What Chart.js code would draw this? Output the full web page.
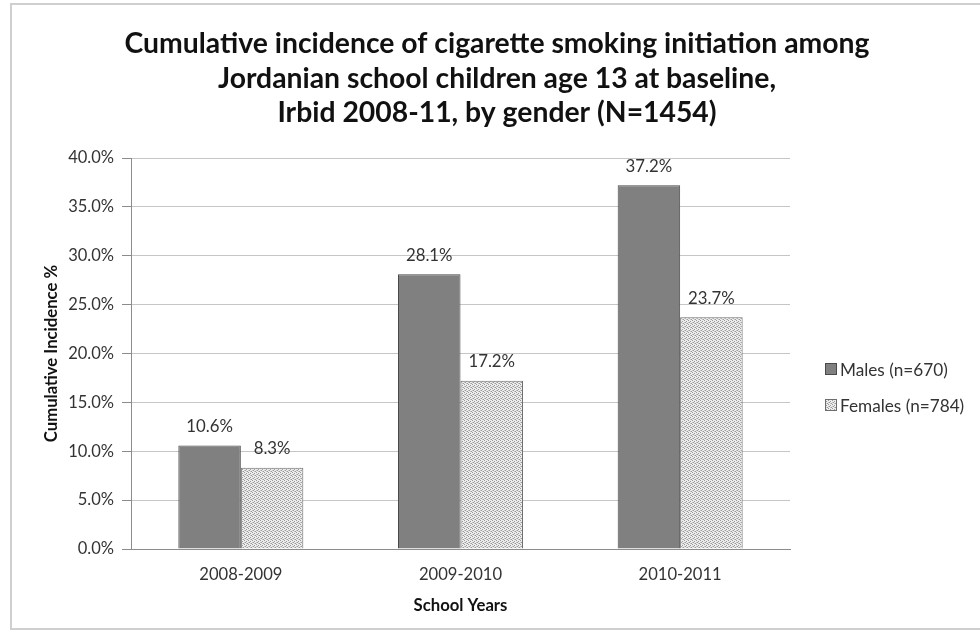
<!DOCTYPE html>
<html><head><meta charset="utf-8">
<script src="https://cdn.jsdelivr.net/npm/chart.js@4.4.1/dist/chart.umd.min.js"></script>
<style>html,body{margin:0;padding:0;background:#fff;overflow:hidden}canvas{display:block}</style>
</head><body>
<canvas id="c" width="980" height="636"></canvas>
<script>
const categories = ['2008-2009', '2009-2010', '2010-2011'];
const seriesNames = ['Males (n=670)', 'Females (n=784)'];
const males = [10.6, 28.1, 37.2];
const females = [8.3, 17.2, 23.7];
const titleLines = ['Cumulative incidence of cigarette smoking initiation among',
  'Jordanian school children age 13 at baseline,',
  'Irbid 2008-11, by gender (N=1454)'];
const yAxisTitle = 'Cumulative Incidence %';
const xAxisTitle = 'School Years';
const yMin = 0, yMax = 40, yStep = 5;

const FONT = 'Lato, "Open Sans", sans-serif';
const TXT = '#333333';

function makePattern() {
  const c = document.createElement('canvas');
  c.width = 4; c.height = 4;
  const g = c.getContext('2d');
  g.fillStyle = '#ececec'; g.fillRect(0, 0, 4, 4);
  g.fillStyle = '#9a9a9a';
  [[0,0],[2,1],[1,2],[3,3]].forEach(p => g.fillRect(p[0], p[1], 1, 1));
  g.fillStyle = '#c4c4c4';
  [[2,3],[0,2]].forEach(p => g.fillRect(p[0], p[1], 1, 1));
  return document.getElementById('c').getContext('2d').createPattern(c, 'repeat');
}
const femalePattern = makePattern();

const decor = {
  id: 'decor',
  beforeDraw(chart) {
    const ctx = chart.ctx;
    ctx.save();
    ctx.fillStyle = '#fff';
    ctx.fillRect(0, 0, chart.width, chart.height);
    ctx.strokeStyle = '#cfcfcf';
    ctx.lineWidth = 2;
    ctx.strokeRect(11, 4, 990, 625);
    ctx.restore();
  },
  afterDraw(chart) {
    const ctx = chart.ctx;
    ctx.save();
    // title
    let size = 26;
    ctx.font = 'bold ' + size + 'px ' + FONT;
    const w = ctx.measureText(titleLines[0]).width;
    size = size * 745 / w;
    ctx.font = 'bold ' + size.toFixed(2) + 'px ' + FONT;
    ctx.fillStyle = '#111';
    ctx.textAlign = 'center';
    ctx.textBaseline = 'alphabetic';
    const baselines = [53, 88, 122];
    titleLines.forEach((t, i) => ctx.fillText(t, 497, baselines[i]));
    // data labels
    ctx.font = '16.8px ' + FONT;
    ctx.fillStyle = TXT;
    ctx.textBaseline = 'middle';
    chart.data.datasets.forEach((ds, di) => {
      chart.getDatasetMeta(di).data.forEach((bar, i) => {
        ctx.fillText(ds.data[i].toFixed(1) + '%', bar.x, bar.y - 19);
      });
    });
    // legend
    const legendY = [369, 405];
    ctx.textAlign = 'left';
    ctx.font = '17.2px ' + FONT;
    chart.data.datasets.forEach((ds, di) => {
      const y = legendY[di];
      ctx.fillStyle = ds.backgroundColor;
      ctx.fillRect(825, y - 6, 12, 12);
      ctx.strokeStyle = ds.borderColor;
      ctx.lineWidth = 1;
      ctx.strokeRect(825.5, y - 5.5, 11, 11);
      ctx.fillStyle = TXT;
      ctx.fillText(ds.label, 840, y + 1);
    });
    ctx.restore();
  }
};

new Chart(document.getElementById('c'), {
  type: 'bar',
  data: {
    labels: categories,
    datasets: [
      { label: seriesNames[0], data: males, backgroundColor: '#808080', borderColor: '#4a4a4a', borderWidth: 1,
        categoryPercentage: 0.569, barPercentage: 1.0 },
      { label: seriesNames[1], data: females, backgroundColor: femalePattern, borderColor: '#6e6e6e', borderWidth: 1,
        categoryPercentage: 0.569, barPercentage: 1.0 }
    ]
  },
  options: {
    responsive: false,
    animation: false,
    devicePixelRatio: 1,
    layout: { autoPadding: false, padding: { top: 158, right: 190, bottom: 0, left: 0 } },
    plugins: { legend: { display: false }, title: { display: false }, tooltip: { enabled: false } },
    scales: {
      x: {
        afterFit(s) { s.height = 87; },
        grid: { display: false, drawTicks: false, tickLength: 0 },
        border: { display: true, color: '#8c8c8c', width: 1 },
        ticks: { color: TXT, font: { family: FONT, size: 16.6 }, padding: 16, maxRotation: 0 },
        title: { display: true, text: xAxisTitle, color: '#111', font: { family: FONT, size: 16.7, weight: 'bold' },
          padding: { top: 0, bottom: 20 } }
      },
      y: {
        min: yMin, max: yMax,
        afterFit(s) { s.width = 131; },
        afterBuildTicks(s) {
          const t = [];
          for (let v = yMin; v <= yMax; v += yStep) t.push({ value: v });
          s.ticks = t;
        },
        grid: { color: '#c6c6c6', lineWidth: 1, drawTicks: true, tickLength: 9, tickColor: '#8c8c8c' },
        border: { display: true, color: '#8c8c8c', width: 1 },
        ticks: { color: TXT, font: { family: FONT, size: 16.5 }, padding: 8,
          callback: v => v.toFixed(1) + '%' },
        title: { display: true, text: yAxisTitle, color: '#111', font: { family: FONT, size: 16.7, weight: 'bold' },
          padding: { top: 42, bottom: 0 } }
      }
    }
  },
  plugins: [decor]
});
</script>
</body></html>
